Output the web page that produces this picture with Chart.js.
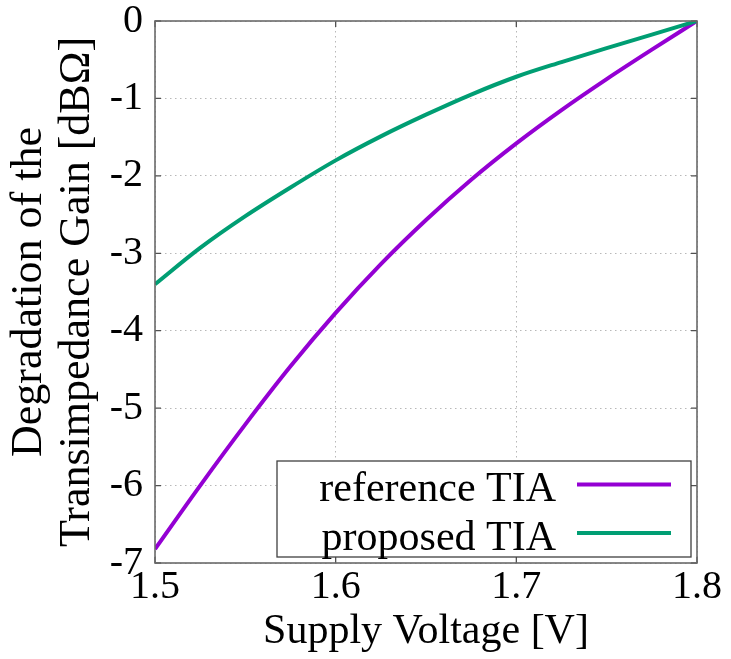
<!DOCTYPE html>
<html>
<head>
<meta charset="utf-8">
<script src="https://cdn.jsdelivr.net/npm/chart.js@4/dist/chart.umd.min.js"></script>
<style>
  html, body { margin: 0; padding: 0; background: #ffffff; }
  #wrap { width: 731px; height: 659px; }
</style>
</head>
<body>
<div id="wrap"><canvas id="c" width="731" height="659"></canvas></div>
<script>
// ---- data ----
const supplyVoltage = [1.500, 1.525, 1.550, 1.575, 1.600, 1.625, 1.650, 1.675, 1.700, 1.725, 1.750, 1.775, 1.800];
const referenceTIA  = [-6.82, -6.00, -5.21, -4.46, -3.77, -3.14, -2.57, -2.05, -1.58, -1.15, -0.75, -0.37, 0.00];
const proposedTIA   = [-3.40, -2.93, -2.52, -2.15, -1.80, -1.49, -1.21, -0.95, -0.72, -0.53, -0.35, -0.175, 0.00];
const seriesNames   = ['reference TIA', 'proposed TIA'];
const seriesColors  = ['#9400d3', '#009e73'];
const xTickValues   = [1.5, 1.6, 1.7, 1.8];
const xTickLabels   = ['1.5', '1.6', '1.7', '1.8'];
const yTickValues   = [0, -1, -2, -3, -4, -5, -6, -7];
const yTickLabels   = ['0', '-1', '-2', '-3', '-4', '-5', '-6', '-7'];
const xTitle = 'Supply Voltage [V]';
const yTitle = ['Degradation of the', 'Transimpedance Gain [dB\u03A9]'];

const FONT = '"Liberation Serif", "Times New Roman", serif';

const toPoints = ys => supplyVoltage.map((x, i) => ({ x: x, y: ys[i] }));

// inward tick marks + frame + gnuplot-style legend
const framePlugin = {
  id: 'frame',
  afterDatasetsDraw(chart) {
    const ctx = chart.ctx, a = chart.chartArea;
    const xs = chart.scales.x, ys = chart.scales.y;
    ctx.save();
    ctx.strokeStyle = '#505050';
    ctx.lineWidth = 1.3;
    ctx.beginPath();
    xTickValues.forEach(v => {
      const px = xs.getPixelForValue(v);
      ctx.moveTo(px, a.bottom); ctx.lineTo(px, a.bottom - 6);
      ctx.moveTo(px, a.top); ctx.lineTo(px, a.top + 6);
    });
    yTickValues.forEach(v => {
      const py = ys.getPixelForValue(v);
      ctx.moveTo(a.left, py); ctx.lineTo(a.left + 6, py);
      ctx.moveTo(a.right, py); ctx.lineTo(a.right - 6, py);
    });
    ctx.stroke();
    ctx.strokeStyle = '#6a6a6a';
    ctx.lineWidth = 1.6;
    ctx.strokeRect(a.left, a.top, a.right - a.left, a.bottom - a.top);
    ctx.restore();
  },
  afterDraw(chart) {
    const ctx = chart.ctx, a = chart.chartArea;
    const right = a.right - 6, bottom = a.bottom - 6;
    const w = 414, h = 96;
    const left = right - w, top = bottom - h;
    ctx.save();
    ctx.fillStyle = '#ffffff';
    ctx.fillRect(left, top, w, h);
    ctx.strokeStyle = '#404040';
    ctx.lineWidth = 1.3;
    ctx.strokeRect(left, top, w, h);
    ctx.font = '42px ' + FONT;
    ctx.textAlign = 'right';
    ctx.textBaseline = 'alphabetic';
    chart.data.datasets.forEach((ds, i) => {
      const base = top + 40 + i * 48.5;
      ctx.fillStyle = '#000000';
      ctx.fillText(ds.label, right - 135, base);
      ctx.strokeStyle = ds.borderColor;
      ctx.lineWidth = 4;
      ctx.beginPath();
      ctx.moveTo(right - 114, base - 16.4);
      ctx.lineTo(right - 20, base - 16.4);
      ctx.stroke();
    });
    ctx.restore();
  }
};

new Chart(document.getElementById('c'), {
  type: 'line',
  data: {
    datasets: [
      { label: seriesNames[0], data: toPoints(referenceTIA), borderColor: seriesColors[0],
        backgroundColor: seriesColors[0], borderWidth: 4, pointRadius: 0, fill: false,
        cubicInterpolationMode: 'monotone', order: 1 },
      { label: seriesNames[1], data: toPoints(proposedTIA), borderColor: seriesColors[1],
        backgroundColor: seriesColors[1], borderWidth: 4, pointRadius: 0, fill: false,
        cubicInterpolationMode: 'monotone', order: 0 }
    ]
  },
  options: {
    responsive: false,
    animation: false,
    devicePixelRatio: 1,
    layout: { padding: { top: 21, right: 34, left: 0, bottom: 0 } },
    plugins: { legend: { display: false }, tooltip: { enabled: false } },
    scales: {
      x: {
        type: 'linear', min: 1.5, max: 1.8,
        afterBuildTicks: s => { s.ticks = xTickValues.map(v => ({ value: v })); },
        afterFit: s => { s.height = 96; },
        ticks: {
          callback: (v) => xTickLabels[xTickValues.indexOf(v)] ?? '',
          font: { family: FONT, size: 40, lineHeight: 1.2 }, color: '#000000',
          padding: 0, maxRotation: 0, autoSkip: false
        },
        grid: { color: '#b8b8b8', lineWidth: 1, drawTicks: false },
        border: { display: false, dash: [1.5, 3.5] },
        title: { display: true, text: xTitle, color: '#000000',
          font: { family: FONT, size: 42, lineHeight: 1.2 }, padding: { top: 0, bottom: 2 } }
      },
      y: {
        type: 'linear', min: -7, max: 0,
        afterBuildTicks: s => { s.ticks = yTickValues.map(v => ({ value: v })); },
        afterFit: s => { s.width = 155; },
        ticks: {
          callback: (v) => yTickLabels[yTickValues.indexOf(v)] ?? '',
          font: { family: FONT, size: 40, lineHeight: 0.2 }, color: '#000000',
          padding: 12, autoSkip: false
        },
        grid: { color: '#b8b8b8', lineWidth: 1, drawTicks: false },
        border: { display: false, dash: [1.5, 3.5] },
        title: { display: true, text: yTitle, color: '#000000',
          font: { family: FONT, size: 44, lineHeight: 1.1 }, padding: { top: 5, bottom: 0 } }
      }
    }
  },
  plugins: [framePlugin]
});
</script>
</body>
</html>
